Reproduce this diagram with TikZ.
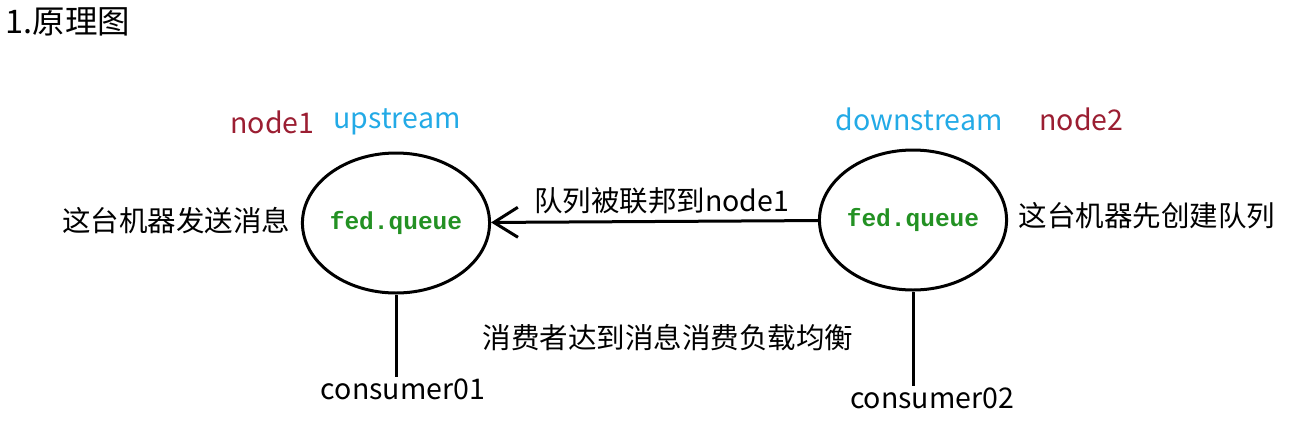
\documentclass[tikz,border=0pt]{standalone}
\usepackage{fontspec}
\setmainfont{Noto Sans CJK SC}
\newfontfamily\queuefont{Liberation Mono}
\usetikzlibrary{arrows.meta,shapes.geometric,positioning}
\definecolor{nodered}{RGB}{155,30,50}
\definecolor{streamblue}{RGB}{35,170,230}
\definecolor{queuegreen}{RGB}{35,145,35}

\begin{document}
\begin{tikzpicture}[x=1pt,y=-1pt,line width=3pt,
  every node/.style={font=\fontsize{28.5}{32}\selectfont,inner sep=0pt}]
  \tikzstyle{queue}=[ellipse,draw,minimum width=179pt,minimum height=140pt,
    text=queuegreen,font=\queuefont\bfseries\fontsize{24.5}{28}\selectfont]
  \tikzstyle{host}=[text=nodered]
  \tikzstyle{role}=[text=streamblue]
  \useasboundingbox (0,0) rectangle (1304,429);

  \node[anchor=west,font=\fontsize{32.5}{36}\selectfont] (title) at (4,22) {1.原理图};

  \node[queue] (q_1) at (396,223) {fed.queue};
  \node[queue] (q_2) at (913,220) {fed.queue};

  \node[role] (up)   at (397,122) {upstream};
  \node[host] (n_1)  [left=16pt of up] {node1};
  \node[role] (down) at (919,119) {downstream};
  \node[host] (n_2)  [right=34pt of down] {node2};

  \node (send)   at (176,221)  {这台机器发送消息};
  \node (create) at (1147,216) {这台机器先创建队列};
  \node (lb)     at (668,338)  {消费者达到消息消费负载均衡};
  \node (c_1)    at (403,389)  {consumer01};
  \node (c_2)    at (932,398)  {consumer02};

  \draw[-{Straight Barb[length=24pt,width=30pt]}]
    (q_2) -- node[above=6pt,xshift=7pt] {队列被联邦到node1} (q_1);
  \draw (q_1.south) -- (q_1.south |- c_1.north);
  \draw (q_2.south) -- (q_2.south |- c_2.north);
\end{tikzpicture}
\end{document}
